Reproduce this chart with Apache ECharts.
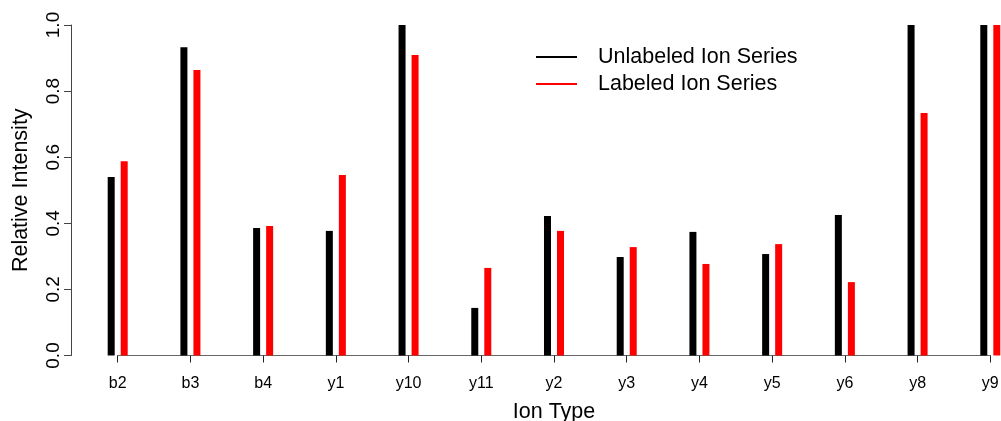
<!DOCTYPE html>
<html>
<head>
<meta charset="utf-8">
<script src="https://cdn.jsdelivr.net/npm/echarts@6/dist/echarts.min.js"></script>
<style>
html,body{margin:0;padding:0;background:#fff;}
#chart{width:1001px;height:421px;}
</style>
</head>
<body>
<div id="chart"></div>
<script>
const categories = ['b2','b3','b4','y1','y10','y11','y2','y3','y4','y5','y6','y8','y9'];
const unlabeled = [0.540,0.933,0.386,0.377,1.000,0.144,0.422,0.298,0.374,0.307,0.425,1.000,1.000];
const labeled   = [0.588,0.864,0.392,0.546,0.909,0.265,0.377,0.328,0.277,0.337,0.222,0.734,1.000];
const seriesNames = ['Unlabeled Ion Series','Labeled Ion Series'];
const yTicks = [0.0,0.2,0.4,0.6,0.8,1.0];

const font = 'Liberation Sans, Arial, Helvetica, sans-serif';
const chart = echarts.init(document.getElementById('chart'), null, {renderer:'canvas'});
chart.setOption({
  animation:false,
  backgroundColor:'#fff',
  grid:{left:117.7, right:1001-990.3, top:25, bottom:421-355.5, containLabel:false, outerBoundsMode:'none'},
  legend:{
    orient:'vertical', left:531, top:41,
    icon:'rect', itemWidth:41, itemHeight:2, itemGap:5,
    data:seriesNames,
    textStyle:{fontFamily:font, fontSize:21.5, color:'#000', lineHeight:22, padding:[0,0,0,16]}
  },
  xAxis:{
    type:'category', data:categories, boundaryGap:false, offset:4,
    name:'Ion Type', nameLocation:'middle', nameGap:42, nameMoveOverlap:false,
    nameTextStyle:{fontFamily:font, fontSize:21.5, color:'#000'},
    axisLine:{lineStyle:{color:'#666', width:1}},
    axisTick:{show:true, alignWithLabel:true, length:7, lineStyle:{color:'#222'}},
    axisLabel:{fontFamily:font, fontSize:16, color:'#000', margin:16, interval:0},
    splitLine:{show:false}
  },
  yAxis:{
    type:'value', min:yTicks[0], max:yTicks[yTicks.length-1], interval:0.2, offset:46.7,
    name:'Relative Intensity', nameLocation:'middle', nameGap:39, nameRotate:90, nameMoveOverlap:false,
    nameTextStyle:{fontFamily:font, fontSize:21.5, color:'#000'},
    axisLine:{show:true, lineStyle:{color:'#444', width:1}},
    axisTick:{show:true, length:7, lineStyle:{color:'#444'}},
    axisLabel:{fontFamily:font, fontSize:19, color:'#000', rotate:90, margin:8,
      formatter:v=>v.toFixed(1)},
    splitLine:{show:false}
  },
  series:[
    {name:seriesNames[0], type:'bar', data:unlabeled, barWidth:7, barGap:'86%',
     itemStyle:{color:'#000'}},
    {name:seriesNames[1], type:'bar', data:labeled, barWidth:7,
     itemStyle:{color:'#ff0000'}}
  ]
});
</script>
</body>
</html>
